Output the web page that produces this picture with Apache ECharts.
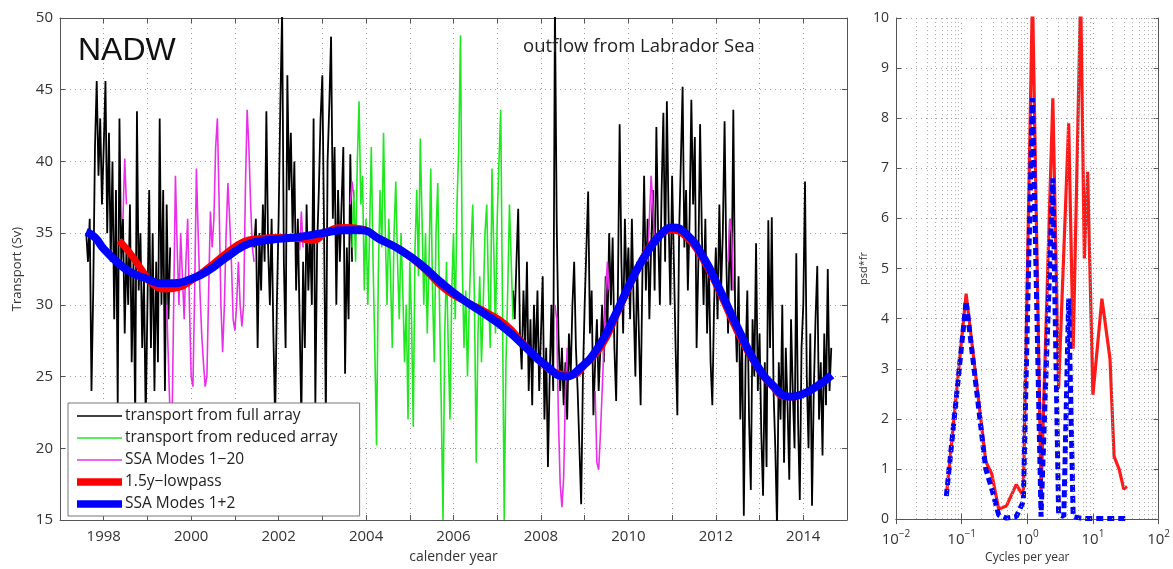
<!DOCTYPE html>
<html><head><meta charset="utf-8">
<script src="https://cdn.jsdelivr.net/npm/echarts@6/dist/echarts.min.js"></script>
<style>html,body{margin:0;padding:0;background:#fff}#c{width:1173px;height:569px}</style>
</head><body><div id="c"></div>
<script>
// ---------- LEFT PANEL DATA (transport, Sv) ----------
// regular sampling: start year, step (years), values
const STEP = 0.04;
const fullArrayA_start = 1997.60;
const fullArrayA = [35,33,36,24,31,41,45.6,39,43,37,41,45.6,35,42,33,40,29,38,23,43,33,36,28,34,30,37,26,33,22,43.5,31,35,27,32,22,30,38,27,35,24,33,26,43,30,38,24,37,29,34];
const fullArrayB_start = 2001.44;
const fullArrayB = [34,36,27,35,31,37,33,43.5,34,30,36,28,22,30,36,44,50.5,33,27,46,38,42,35,40,31,36,29,22,33,27,37,31,35,30,43,23,34,38,43,46,35,22,40,44,48.7,36,41,30,38,33,37,41,25.2,34,29,40.5,33];
const fullArrayC_start = 2007.36;
const fullArrayC = [31,29,33,36.7,28,25.5,31,27,33,24,29,23,30,26,31,24,
 28,32,22,27,18.7,25,30,24,51,35.8,28,24,27,23,26,22,28,25,30,33,27,24,20,16.1,25,
 30,34,37.9,28,31,22.3,26,29,24,27,30,26,32,28,35,30,34.7,27,23.3,31,42.6,33,28,36,31,
 34,29,36,30,25,33,28,23,32,39,31,36,29,34,38,31,42.4,35,30,38,43.4,33,44.2,36,30,
 39,33,27,22.3,35,40,45.2,34,38,31,36,44.3,37,41.7,27,33,42.6,35,30,36,28,33,26,23,30,
 34,29,37,31,35,42.8,33,28,36,31,43.6,30,26,32,22,28,15.3,26,31,22,17.1,29,25,34.3,24,
 28,21,16.7,26,18.7,35.9,27,36.1,24,20,14.5,26,22,30,19,27,23,17.8,29,24,20,33.6,22,16.4,27,
 30,38.6,25,20,28,16,24,29,32.7,22,26,19.5,28,23,32.5,24,27];
const reduced_start = 2003.68;
const reduced = [34,38,33,40,44.2,37,39,31,36,30,35,41,33,27,20.2,32,38,34,42,35,30,36,32,27,35,38.6,33,29,35,31,26,30,22,33,29,21.5,34,38,32,41.6,36,30,35,28,33,39.5,31,26,35,38.5,30,23,15,28,33,27,22,31,35,29,37,41,48.8,33,27,31,25,30,34,37,30,19,28,32,26,30,35,37,31,27,39.5,34,28,36,40,43.6,30,15,26,31,37,33,29];
const ssa20Segments = [
  [1998.44, [36,40.2,37]],
  [1999.44, [30,26,22,21,30,39,34,30,35,32,29,33,36,30,25,24.3,31,39.5,35,31,28,26,24.3,25,31,36.5,34,36,41,43,37,30,26.7,30,35,38.5,36,33,29,28.2,30,33,30,28.5,30,38,43.6,41,37,34,33]],
  [2002.48, [33.8,36.5,34]],
  [2003.64, [37,38.6,37.5]],
  [2008.32, [30,29,22,17.5,15.9,18,24,27]],
  [2009.24, [24,19,18.5,21,24,27,31,33,31]],
  [2010.44, [33,36,39,37,34]],
  [2012.28, [33,36,35,31]]
];
const lowpassT = [1998.35,1998.6,1998.9,1999.1,1999.4,1999.7,2000.0,2000.4,2000.8,2001.2,2001.5,2002.0,2002.5,2002.8,2003.1,2003.5,2003.9,2004.3,2004.8,2005.3,2005.8,2006.3,2006.8,2007.2,2007.6,2008.0,2008.4,2008.7,2009.0,2009.4,2009.8,2010.2,2010.6,2011.0,2011.3,2011.7,2012.1,2012.5,2012.9,2013.3,2013.6,2013.9];
const lowpassV = [34.5,33.6,32.3,31.5,31.1,31.2,31.7,32.6,33.6,34.4,34.6,34.7,34.6,34.5,35.1,35.4,35.3,34.6,33.8,32.6,31.1,30.2,29.4,28.6,27.3,26.0,25.2,25.1,25.8,27.2,29.8,32.4,34.5,35.2,34.8,33.2,30.8,28.1,25.9,24.3,23.6,23.6];
const ssa12T = [1997.6,1997.8,1998.0,1998.3,1998.6,1999.0,1999.3,1999.6,2000.0,2000.4,2000.8,2001.2,2001.5,2002.0,2002.5,2003.0,2003.5,2003.9,2004.3,2004.8,2005.3,2005.7,2006.2,2006.7,2007.2,2007.7,2008.1,2008.55,2008.9,2009.3,2009.7,2010.1,2010.5,2010.8,2011.0,2011.3,2011.7,2012.1,2012.5,2012.9,2013.3,2013.7,2014.0,2014.3,2014.65];
const ssa12V = [35.1,34.7,33.9,33.0,32.3,31.8,31.5,31.5,31.8,32.4,33.3,34.1,34.4,34.6,34.75,35.0,35.2,35.2,34.6,33.8,32.7,31.6,30.4,29.4,28.3,26.9,25.8,25.0,25.6,27.0,29.3,31.9,34.0,35.1,35.4,35.0,33.4,31.0,28.4,26.0,24.4,23.6,23.8,24.3,25.1];
const yearTicks = [1998,2000,2002,2004,2006,2008,2010,2012,2014];

// ---------- RIGHT PANEL DATA (spectrum) ----------
const freqFull = [0.0585,0.117,0.233,0.288,0.367,0.48,0.68,0.87,1.2,1.62,2.45,3.0,4.27,5.0,6.5,7.4,8.3,10,13.7,18.2,21,25,29.5,33];
const psdFull  = [0.46,4.5,1.15,0.9,0.2,0.26,0.69,0.46,10.5,0.52,8.4,2.6,7.9,3.4,10.5,5.2,6.93,2.48,4.4,3.2,1.25,1.0,0.6,0.65];
const freqSSA = [0.0585,0.117,0.233,0.288,0.367,0.48,0.68,0.87,1.2,1.62,2.45,3.0,3.6,4.27,5.0,6.5,8.3,10,13.7,18.2,25,33];
const psdSSA  = [0.46,4.35,1.0,0.6,0.08,0.02,0.05,0.35,8.4,0.05,6.8,0.1,0.05,4.4,0.05,0.02,0.01,0.01,0.01,0.01,0.01,0.01];

// ---------- helpers ----------
const seg = (start, vals) => vals.map((v, i) => [+(start + i * STEP).toFixed(3), v]);
const pairs = (t, v) => t.map((x, i) => [x, v[i]]);
const minorGrid = [];
[0.01, 0.1, 1, 10].forEach(d => { for (let k = 2; k <= 9; k++) minorGrid.push(+(d * k).toPrecision(3)); });

const FONT = 'Open Sans';
const AX = '#555';
const gridLine = { show: true, lineStyle: { type: [1, 4], color: '#9a9a9a', width: 1 } };
const N_FULL = 'transport from full array', N_RED = 'transport from reduced array',
      N_SSA20 = 'SSA Modes 1\u221220', N_LP = '1.5y\u2212lowpass', N_SSA12 = 'SSA Modes 1+2';
// legend icons: 45x14 box, band in the middle
const ICON_THIN = 'path://M0,0L0,0M0,6.2H45V7.8H0ZM45,14L45,14';
const ICON_THICK = 'path://M0,0L0,0M0,3.2H45V10.8H0ZM45,14L45,14';

const thin = (name, color, data, w) => ({
  name, type: 'line', xAxisIndex: 0, yAxisIndex: 0, data, symbol: 'none', showSymbol: false,
  lineStyle: { color, width: w }, itemStyle: { color }, z: 2
});

const series = [];
series.push(thin(N_FULL, '#000000', seg(fullArrayA_start, fullArrayA), 1.8));
series.push(thin(N_FULL, '#000000', seg(fullArrayB_start, fullArrayB), 1.8));
series.push(thin(N_FULL, '#000000', seg(fullArrayC_start, fullArrayC), 1.8));
series.push(thin(N_RED, '#1fe81f', seg(reduced_start, reduced), 1.6));
ssa20Segments.forEach(s => series.push(thin(N_SSA20, '#e830e8', seg(s[0], s[1]), 1.6)));
series.push({ name: N_LP, type: 'line', xAxisIndex: 0, yAxisIndex: 0, data: pairs(lowpassT, lowpassV),
  smooth: 0.5, symbol: 'none', lineStyle: { color: '#ff0000', width: 7 }, itemStyle: { color: '#ff0000' }, z: 3 });
series.push({ name: N_SSA12, type: 'line', xAxisIndex: 0, yAxisIndex: 0, data: pairs(ssa12T, ssa12V),
  smooth: 0.5, symbol: 'none', lineStyle: { color: '#0000ff', width: 8 }, itemStyle: { color: '#0000ff' }, z: 4 });
series.push({ name: 'psd full', type: 'line', xAxisIndex: 2, yAxisIndex: 2, data: pairs(freqFull, psdFull),
  symbol: 'none', lineStyle: { color: '#ff1a1a', width: 3.2 }, z: 3,
  markLine: { silent: true, symbol: ['none', 'none'], label: { show: false },
    lineStyle: { type: [1, 3], color: '#a8a8a8', width: 1 }, animation: false,
    data: minorGrid.map(v => ({ xAxis: v })) } });
series.push({ name: 'psd ssa', type: 'line', xAxisIndex: 2, yAxisIndex: 2, data: pairs(freqSSA, psdSSA),
  symbol: 'none', lineStyle: { color: '#0000ff', width: 5, type: [7, 4] }, z: 4 });

const supText = e => (e < 0 ? '\u2212' + (-e) : String(e));

const option = {
  animation: false,
  backgroundColor: '#fff',
  textStyle: { fontFamily: FONT },
  title: [
    { text: 'NADW', left: 78, top: 35, padding: 0,
      textStyle: { fontSize: 32, fontWeight: 'normal', fontFamily: 'Liberation Sans', color: '#111' } },
    { text: 'outflow from Labrador Sea', left: 523, top: 37, padding: 0,
      textStyle: { fontSize: 18.5, fontWeight: 'normal', fontFamily: FONT, color: '#222' } }
  ],
  legend: {
    data: [
      { name: N_FULL, icon: ICON_THIN },
      { name: N_RED, icon: ICON_THIN },
      { name: N_SSA20, icon: ICON_THIN },
      { name: N_LP, icon: ICON_THICK },
      { name: N_SSA12, icon: ICON_THICK }
    ],
    orient: 'vertical', left: 68, top: 403, itemWidth: 45, itemHeight: 14, itemGap: 6,
    padding: [5, 22, 4, 9], backgroundColor: '#fff', borderColor: '#777', borderWidth: 1,
    textStyle: { fontSize: 15.5, color: '#222', fontFamily: FONT, padding: [0, 0, 0, -2] },
    selectedMode: false, z: 10
  },
  grid: [
    { left: 60, top: 18, width: 787, height: 505 },
    { left: 896, top: 18, width: 266, height: 505 }
  ],
  xAxis: [
    { gridIndex: 0, type: 'value', min: 1997, max: 2015, interval: 1,
      axisLine: { lineStyle: { color: AX } }, axisTick: { inside: true, length: 5, lineStyle: { color: AX } },
      axisLabel: { formatter: v => (yearTicks.indexOf(v) >= 0 ? String(v) : ''), fontSize: 15, color: '#333', margin: 9, fontFamily: FONT },
      splitLine: gridLine,
      name: 'calender year', nameLocation: 'middle', nameGap: 30, nameTextStyle: { fontSize: 14, color: '#333', fontFamily: FONT } },
    { gridIndex: 0, type: 'value', min: 1997, max: 2015, interval: 1, position: 'top',
      axisLine: { lineStyle: { color: AX } }, axisTick: { inside: true, length: 5, lineStyle: { color: AX } },
      axisLabel: { show: false }, splitLine: { show: false } },
    { gridIndex: 1, type: 'log', logBase: 10, min: 0.01, max: 100,
      axisLine: { lineStyle: { color: AX } }, axisTick: { inside: true, length: 5, lineStyle: { color: AX } },
      axisLabel: { formatter: v => '{b|10}{s|' + supText(Math.round(Math.log10(v))) + '}', margin: 10,
        rich: { b: { fontSize: 15, color: '#333', fontFamily: FONT }, s: { fontSize: 10, color: '#333', fontFamily: FONT, padding: [0, 0, 11, 0] } } },
      splitLine: gridLine,
      name: 'Cycles per year', nameLocation: 'middle', nameGap: 32, nameTextStyle: { fontSize: 12, color: '#333', fontFamily: FONT } },
    { gridIndex: 1, type: 'log', logBase: 10, min: 0.01, max: 100, position: 'top',
      axisLine: { lineStyle: { color: AX } }, axisTick: { inside: true, length: 5, lineStyle: { color: AX } },
      axisLabel: { show: false }, splitLine: { show: false } }
  ],
  yAxis: [
    { gridIndex: 0, type: 'value', min: 15, max: 50, interval: 5,
      axisLine: { show: true, lineStyle: { color: AX } }, axisTick: { show: true, inside: true, length: 5, lineStyle: { color: AX } },
      axisLabel: { fontSize: 15, color: '#333', margin: 7, fontFamily: FONT },
      splitLine: gridLine,
      name: 'Transport (Sv)', nameLocation: 'middle', nameGap: 36, nameTextStyle: { fontSize: 13, color: '#333', fontFamily: FONT } },
    { gridIndex: 0, type: 'value', min: 15, max: 50, interval: 5, position: 'right',
      axisLine: { show: true, lineStyle: { color: AX } }, axisTick: { show: true, inside: true, length: 5, lineStyle: { color: AX } },
      axisLabel: { show: false }, splitLine: { show: false } },
    { gridIndex: 1, type: 'value', min: 0, max: 10, interval: 1,
      axisLine: { show: true, lineStyle: { color: AX } }, axisTick: { show: true, inside: true, length: 5, lineStyle: { color: AX } },
      axisLabel: { fontSize: 14, color: '#333', margin: 7, fontFamily: FONT },
      splitLine: gridLine,
      name: 'psd*fr', nameLocation: 'middle', nameGap: 24, nameTextStyle: { fontSize: 11, color: '#333', fontFamily: FONT } },
    { gridIndex: 1, type: 'value', min: 0, max: 10, interval: 1, position: 'right',
      axisLine: { show: true, lineStyle: { color: AX } }, axisTick: { show: true, inside: true, length: 5, lineStyle: { color: AX } },
      axisLabel: { show: false }, splitLine: { show: false } }
  ],
  series
};
const chart = echarts.init(document.getElementById('c'), null, { renderer: 'canvas' });
chart.setOption(option);
</script></body></html>
